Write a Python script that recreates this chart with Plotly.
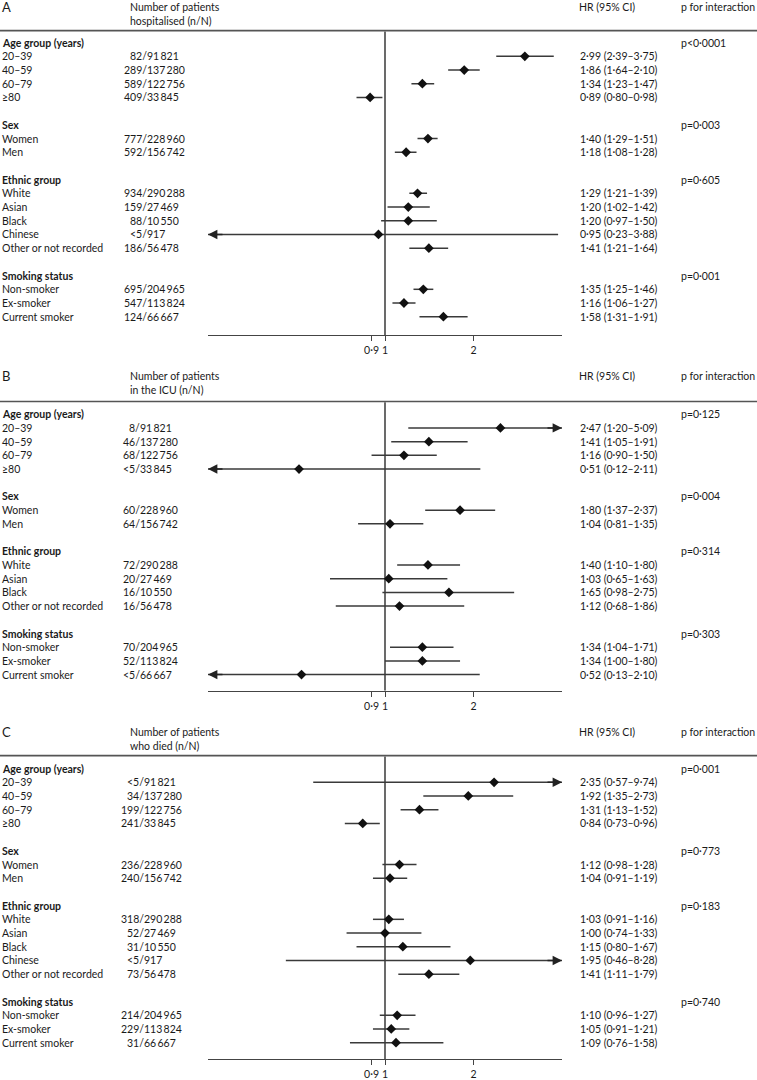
import math
import plotly.graph_objects as go

# ---------------- data ----------------
GROUPS = ["Age group (years)", "Sex", "Ethnic group", "Smoking status"]

# Panel A – hospitalised
A_labels = ["20–39", "40–59", "60–79", "≥80", "Women", "Men", "White", "Asian", "Black",
            "Chinese", "Other or not recorded", "Non-smoker", "Ex-smoker", "Current smoker"]
A_group = [0, 0, 0, 0, 1, 1, 2, 2, 2, 2, 2, 3, 3, 3]
A_n = ["82", "289", "589", "409", "777", "592", "934", "159", "88", "<5", "186", "695", "547", "124"]
A_N = [91821, 137280, 122756, 33845, 228960, 156742, 290288, 27469, 10550, 917, 56478, 204965, 113824, 66667]
A_hr = [2.99, 1.86, 1.34, 0.89, 1.40, 1.18, 1.29, 1.20, 1.20, 0.95, 1.41, 1.35, 1.16, 1.58]
A_lo = [2.39, 1.64, 1.23, 0.80, 1.29, 1.08, 1.21, 1.02, 0.97, 0.23, 1.21, 1.25, 1.06, 1.31]
A_hi = [3.75, 2.10, 1.47, 0.98, 1.51, 1.28, 1.39, 1.42, 1.50, 3.88, 1.64, 1.46, 1.27, 1.91]
A_p = ["p<0·0001", "p=0·003", "p=0·605", "p=0·001"]

# Panel B – ICU
B_labels = ["20–39", "40–59", "60–79", "≥80", "Women", "Men", "White", "Asian", "Black",
            "Other or not recorded", "Non-smoker", "Ex-smoker", "Current smoker"]
B_group = [0, 0, 0, 0, 1, 1, 2, 2, 2, 2, 3, 3, 3]
B_n = ["8", "46", "68", "<5", "60", "64", "72", "20", "16", "16", "70", "52", "<5"]
B_N = [91821, 137280, 122756, 33845, 228960, 156742, 290288, 27469, 10550, 56478, 204965, 113824, 66667]
B_hr = [2.47, 1.41, 1.16, 0.51, 1.80, 1.04, 1.40, 1.03, 1.65, 1.12, 1.34, 1.34, 0.52]
B_lo = [1.20, 1.05, 0.90, 0.12, 1.37, 0.81, 1.10, 0.65, 0.98, 0.68, 1.04, 1.00, 0.13]
B_hi = [5.09, 1.91, 1.50, 2.11, 2.37, 1.35, 1.80, 1.63, 2.75, 1.86, 1.71, 1.80, 2.10]
B_p = ["p=0·125", "p=0·004", "p=0·314", "p=0·303"]

# Panel C – died
C_labels = ["20–39", "40–59", "60–79", "≥80", "Women", "Men", "White", "Asian", "Black",
            "Chinese", "Other or not recorded", "Non-smoker", "Ex-smoker", "Current smoker"]
C_group = [0, 0, 0, 0, 1, 1, 2, 2, 2, 2, 2, 3, 3, 3]
C_n = ["<5", "34", "199", "241", "236", "240", "318", "52", "31", "<5", "73", "214", "229", "31"]
C_N = [91821, 137280, 122756, 33845, 228960, 156742, 290288, 27469, 10550, 917, 56478, 204965, 113824, 66667]
C_hr = [2.35, 1.92, 1.31, 0.84, 1.12, 1.04, 1.03, 1.00, 1.15, 1.95, 1.41, 1.10, 1.05, 1.09]
C_lo = [0.57, 1.35, 1.13, 0.73, 0.98, 0.91, 0.91, 0.74, 0.80, 0.46, 1.11, 0.96, 0.91, 0.76]
C_hi = [9.74, 2.73, 1.52, 0.96, 1.28, 1.19, 1.16, 1.33, 1.67, 8.28, 1.79, 1.27, 1.21, 1.58]
C_p = ["p=0·001", "p=0·773", "p=0·183", "p=0·740"]

TICK_VALS = [0.9, 1, 2]
TICK_TEXT = ["0·9", "1", "2"]
X_MIN, X_MAX = 0.25, 4.0

# ---------------- layout constants ----------------
W, H = 757, 1080
FONT = "Lato, 'Open Sans', sans-serif"
TXT = "#1a1a1a"
FS = 10.5
PITCH = 13.73
X_LEFT, X_RIGHT = 208, 562
HR_X, P_X, HEAD_X = 579, 680, 129

panels = [
    dict(key="A", sub="hospitalised (n/N)", head=7, line=30.7, row0=42.7, axis=335.7, slash=148,
         labels=A_labels, group=A_group, n=A_n, N=A_N, hr=A_hr, lo=A_lo, hi=A_hi, p=A_p),
    dict(key="B", sub="in the ICU (n/N)", head=377, line=402.3, row0=415, axis=692, slash=141,
         labels=B_labels, group=B_group, n=B_n, N=B_N, hr=B_hr, lo=B_lo, hi=B_hi, p=B_p),
    dict(key="C", sub="who died (n/N)", head=733, line=757, row0=770, axis=1061, slash=145,
         labels=C_labels, group=C_group, n=C_n, N=C_N, hr=C_hr, lo=C_lo, hi=C_hi, p=C_p),
]


def dot(v):
    return f"{v:.2f}".replace(".", "·")


def thou(v):
    return f"{v:,}".replace(",", "\u2009")


def py(px):
    return 1 - px / H


def px_x(px):
    return px / W


fig = go.Figure()
annotations = []
shapes = []


def text(x, y, s, anchor="left", size=FS, bold=False):
    annotations.append(dict(
        x=px_x(x), y=py(y), xref="paper", yref="paper", text=f"<b>{s}</b>" if bold else s,
        showarrow=False, xanchor=anchor, yanchor="middle", borderpad=0,
        font=dict(family=FONT, size=size, color=TXT)))


for i, P in enumerate(panels):
    sfx = "" if i == 0 else str(i + 1)
    xa, ya = "x" + sfx, "y" + sfx

    # header
    text(1, P["head"], P["key"], size=13)
    text(HEAD_X, P["head"], "Number of patients")
    text(HEAD_X, P["head"] + 14, P["sub"])
    text(HR_X - 1, P["head"], "HR (95% CI)")
    text(P_X, P["head"], "p for interaction")
    shapes.append(dict(type="line", xref="paper", yref="paper", x0=0, x1=1,
                       y0=py(P["line"]), y1=py(P["line"]), line=dict(color="#555", width=1.6)))

    # rows
    ys = []
    r = 0
    for g, gname in enumerate(GROUPS):
        idx = [k for k, gg in enumerate(P["group"]) if gg == g]
        yh = P["row0"] + r * PITCH
        text(1, yh, gname, bold=True)
        text(P_X, yh, P["p"][g])
        for j, k in enumerate(idx):
            ys.append(P["row0"] + (r + 1 + j) * PITCH)
        r += len(idx) + 2

    lx, ly = [], []
    for k, yr in enumerate(ys):
        text(1, yr, P["labels"][k])
        text(P["slash"], yr, P["n"][k] + "/", anchor="right")
        text(P["slash"] - 2.5, yr, thou(P["N"][k]), anchor="left")
        text(HR_X, yr, f"{dot(P['hr'][k])} ({dot(P['lo'][k])}–{dot(P['hi'][k])})")
        lo = max(P["lo"][k], X_MIN)
        hi = min(P["hi"][k], X_MAX)
        lx += [lo, hi, None]
        ly += [yr, yr, None]
        if P["lo"][k] < X_MIN:
            annotations.append(dict(x=math.log10(X_MIN), y=yr, xref=xa, yref=ya, ax=16, ay=0,
                                    axref="pixel", ayref="pixel", text="", showarrow=True,
                                    arrowhead=2, arrowsize=1.25, arrowwidth=1.5, arrowcolor="#222"))
        if P["hi"][k] > X_MAX:
            annotations.append(dict(x=math.log10(X_MAX), y=yr, xref=xa, yref=ya, ax=-16, ay=0,
                                    axref="pixel", ayref="pixel", text="", showarrow=True,
                                    arrowhead=2, arrowsize=1.25, arrowwidth=1.5, arrowcolor="#222"))

    # reference line at HR = 1
    fig.add_trace(go.Scatter(x=[1, 1], y=[P["line"] + 0.8, P["axis"]], mode="lines",
                             line=dict(color="#2b2b2b", width=1.4), xaxis=xa, yaxis=ya,
                             hoverinfo="skip", showlegend=False))
    # CI lines
    fig.add_trace(go.Scatter(x=lx, y=ly, mode="lines", line=dict(color="#3a3a3a", width=1.5),
                             xaxis=xa, yaxis=ya, hoverinfo="skip", showlegend=False))
    # point estimates
    fig.add_trace(go.Scatter(x=P["hr"], y=ys, mode="markers",
                             marker=dict(symbol="diamond", size=7.5, color="#111"),
                             xaxis=xa, yaxis=ya, hoverinfo="skip", showlegend=False))

    fig.layout["xaxis" + sfx] = dict(
        domain=[px_x(X_LEFT), px_x(X_RIGHT)], type="log",
        range=[math.log10(X_MIN), math.log10(X_MAX)], anchor=ya,
        showline=True, linecolor="#444", linewidth=1.4, ticks="outside", ticklen=5,
        tickwidth=1.3, tickcolor="#444", tickvals=TICK_VALS, ticktext=TICK_TEXT,
        tickfont=dict(family=FONT, size=FS, color=TXT), showgrid=False, zeroline=False,
        fixedrange=True)
    fig.layout["yaxis" + sfx] = dict(
        domain=[py(P["axis"]), py(P["line"])], range=[P["axis"], P["line"]], anchor=xa,
        visible=False, showgrid=False, zeroline=False, fixedrange=True)

fig.update_layout(
    width=W, height=H, margin=dict(l=0, r=0, t=0, b=0),
    paper_bgcolor="white", plot_bgcolor="white", showlegend=False,
    annotations=annotations, shapes=shapes, font=dict(family=FONT, size=FS, color=TXT),
)

fig.write_html("out.html", config={"displayModeBar": False},
               post_script="document.body.style.margin='0';document.body.style.padding='0';"
                           "document.body.style.overflow='hidden';")
